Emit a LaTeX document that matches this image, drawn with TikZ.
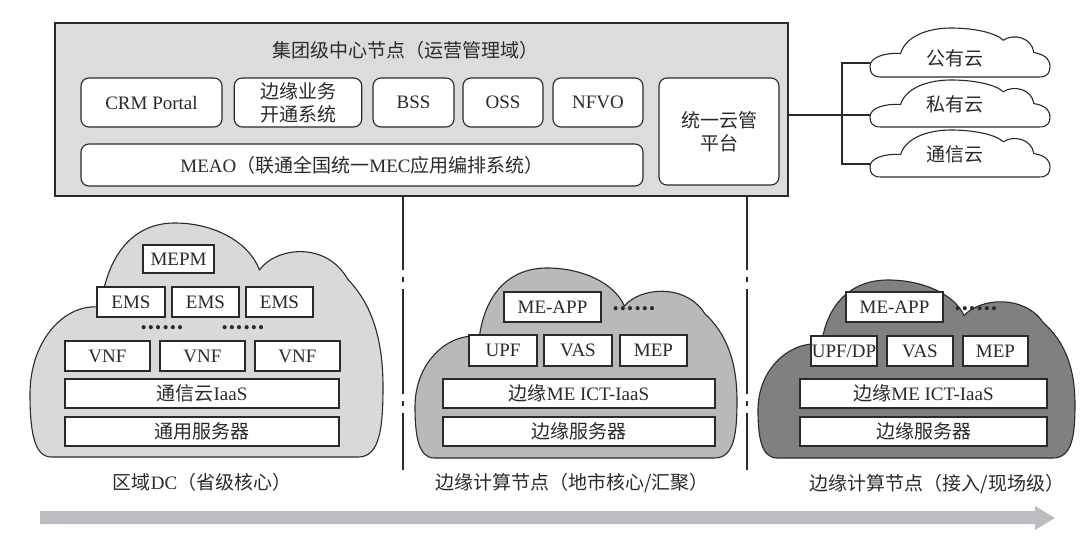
\documentclass[tikz,border=0pt]{standalone}
\usepackage{fontspec}
\setmainfont{Liberation Serif}
\newfontfamily\cjk{Noto Sans CJK SC}
\definecolor{inkc}{HTML}{2A2A2A}
\definecolor{boxgray}{HTML}{DCDCDC}
\definecolor{cloudA}{HTML}{D9D9D9}
\definecolor{cloudB}{HTML}{B9B9B9}
\definecolor{cloudC}{HTML}{808080}
\definecolor{arrowgray}{HTML}{BDBDC1}
\newcommand{\bigcloud}[5]{%
  \draw[draw=inkc, line width=1.1pt, fill=#1, shift={(#2,#3)}, xscale=#4, yscale=#5]
  (0.06,1) .. controls (0.01,1) and (0,0.88) .. (0,0.73)
  .. controls (0,0.5) and (0.1,0.34) .. (0.2,0.36)
  .. controls (0.22,0.12) and (0.3,0) .. (0.41,0)
  .. controls (0.52,0) and (0.62,0.08) .. (0.65,0.2)
  .. controls (0.7,0.1) and (0.84,0.08) .. (0.9,0.24)
  .. controls (0.97,0.35) and (1,0.5) .. (1,0.7)
  .. controls (1,0.88) and (0.99,1) .. (0.93,1) -- cycle;}
\newcommand{\smallcloud}[4]{%
  \draw[draw=inkc, line width=1.1pt, fill=white, shift={(#1,#2)}, xscale=#3, yscale=#4]
  (0.06,1) .. controls (0.01,1) and (0,0.9) .. (0,0.78)
  .. controls (0,0.6) and (0.08,0.5) .. (0.17,0.52)
  .. controls (0.2,0.15) and (0.33,0) .. (0.45,0)
  .. controls (0.58,0) and (0.7,0.1) .. (0.74,0.25)
  .. controls (0.8,0.1) and (0.9,0.2) .. (0.91,0.5)
  .. controls (0.99,0.55) and (1,0.7) .. (1,0.78)
  .. controls (1,0.9) and (0.99,1) .. (0.94,1) -- cycle;}
\tikzset{
  ink/.style={draw=inkc, line width=1.1pt},
  rbox/.style={ink, fill=white, rounded corners=8pt, inner sep=0pt, align=center},
  sbox/.style={ink, fill=white, inner sep=0pt, align=center},
  lbl/.style={inner sep=0pt, align=center},
  dots/.style={inner sep=0pt, font=\fontsize{19}{23}\selectfont\cjk\bfseries},
  divline/.style={draw=inkc, line width=1.1pt, dash pattern=on 105pt off 7pt on 5pt off 7pt, dash phase=31pt},
}
\begin{document}
\begin{tikzpicture}[x=1pt, y=-1pt, font=\fontsize{19}{23}\selectfont, text=inkc]
\useasboundingbox (0,0) rectangle (1080,541);
% top box
\node[ink, fill=boxgray, minimum width=733, minimum height=173, inner sep=0pt] (topbox) at (421.5,109.5) {};
\node[lbl] (title) at (405,50) {\cjk 集团级中心节点（运营管理域）};
\node[rbox, minimum width=141, minimum height=49] (crm) at (151.5,102.5) {CRM Portal};
\node[rbox, minimum width=127.5, minimum height=49] (kt) at (298,102.5) {\cjk 边缘业务\\\cjk 开通系统};
\node[rbox, minimum width=81, minimum height=49] (bss) at (413.5,102.5) {BSS};
\node[rbox, minimum width=80, minimum height=49] (oss) at (503,102.5) {OSS};
\node[rbox, minimum width=90, minimum height=49] (nfvo) at (598,102.5) {NFVO};
\node[rbox, minimum width=120, minimum height=107] (ygl) at (719,131.5) {\cjk 统一云管\\\cjk 平台};
\node[rbox, minimum width=562, minimum height=42] (meao) at (362,165) {MEAO{\cjk （联通全国统一}MEC{\cjk 应用编排系统）}};
% right clouds
\smallcloud{870}{28}{180}{49}
\smallcloud{870}{80}{180}{47}
\smallcloud{870}{130}{180}{47}
\node[lbl] (pub) at (955,58) {\cjk 公有云};
\node[lbl] (pri) at (955,104) {\cjk 私有云};
\node[lbl] (tel) at (955,154) {\cjk 通信云};
\coordinate (c1w) at (870,63);
\coordinate (c2w) at (870,115);
\coordinate (c3w) at (870,164);
\coordinate (j) at (842,115);
\draw[ink] (topbox.east |- c2w) -- (c2w);
\draw[ink] (c1w) -- (c1w -| j) -- (c3w -| j) -- (c3w);
% dividers
\coordinate (d1t) at (403,196); \coordinate (d1b) at (403,470);
\coordinate (d2t) at (747,196); \coordinate (d2b) at (747,470);
\draw[divline] (d1t) -- (d1b);
\draw[divline] (d2t) -- (d2b);
% left cloud
\bigcloud{cloudA}{30}{223}{353}{234}
\node[sbox, minimum width=71, minimum height=28] (mepm) at (178.5,259) {MEPM};
\node[sbox, minimum width=68, minimum height=30] (ems1) at (131,302) {EMS};
\node[sbox, minimum width=67, minimum height=30] (ems2) at (205.5,302) {EMS};
\node[sbox, minimum width=67, minimum height=30] (ems3) at (279.5,302) {EMS};
\node[dots] (dl1) at (162,328) {……};
\node[dots] (dl2) at (243,328) {……};
\node[sbox, minimum width=85, minimum height=30] (vnf1) at (107.5,356) {VNF};
\node[sbox, minimum width=85, minimum height=30] (vnf2) at (202.5,356) {VNF};
\node[sbox, minimum width=85, minimum height=30] (vnf3) at (297.5,356) {VNF};
\node[sbox, minimum width=274, minimum height=29] (iaasA) at (202,393.5) {{\cjk 通信云}IaaS};
\node[sbox, minimum width=274, minimum height=29] (srvA) at (202,431.5) {\cjk 通用服务器};
\node[lbl] (labA) at (202,482) {{\cjk 区域}DC{\cjk （省级核心）}};
% middle cloud
\bigcloud{cloudB}{415}{268}{322}{190}
\node[sbox, minimum width=97, minimum height=30] (appB) at (552.5,307) {ME-APP};
\node[dots] (dB) at (634,309) {……};
\node[sbox, minimum width=68, minimum height=31] (upfB) at (503,350.5) {UPF};
\node[sbox, minimum width=68, minimum height=31] (vasB) at (578,350.5) {VAS};
\node[sbox, minimum width=67, minimum height=31] (mepB) at (653.5,350.5) {MEP};
\node[sbox, minimum width=272, minimum height=29] (iaasB) at (579,393.5) {{\cjk 边缘}ME ICT-IaaS};
\node[sbox, minimum width=272, minimum height=29] (srvB) at (579,431.5) {\cjk 边缘服务器};
\node[lbl] (labB) at (572,483) {\cjk 边缘计算节点（地市核心/汇聚）};
% right cloud
\bigcloud{cloudC}{758}{280}{317}{178}
\node[sbox, minimum width=97, minimum height=30] (appC) at (894.5,307) {ME-APP};
\node[dots] (dC) at (976,309) {……};
\node[sbox, minimum width=66, minimum height=30] (upfC) at (844,351) {UPF/DP};
\node[sbox, minimum width=66, minimum height=30] (vasC) at (920,351) {VAS};
\node[sbox, minimum width=65, minimum height=30] (mepC) at (995.5,351) {MEP};
\node[sbox, minimum width=247, minimum height=29] (iaasC) at (923.5,393.5) {{\cjk 边缘}ME ICT-IaaS};
\node[sbox, minimum width=247, minimum height=29] (srvC) at (923.5,431.5) {\cjk 边缘服务器};
\node[lbl] (labC) at (937,484) {\cjk 边缘计算节点（接入/现场级）};
% bottom arrow
\fill[arrowgray] (40,511) -- (1035,511) -- (1035,506) -- (1055,518) -- (1035,530) -- (1035,524) -- (40,524) -- cycle;
\end{tikzpicture}
\end{document}
